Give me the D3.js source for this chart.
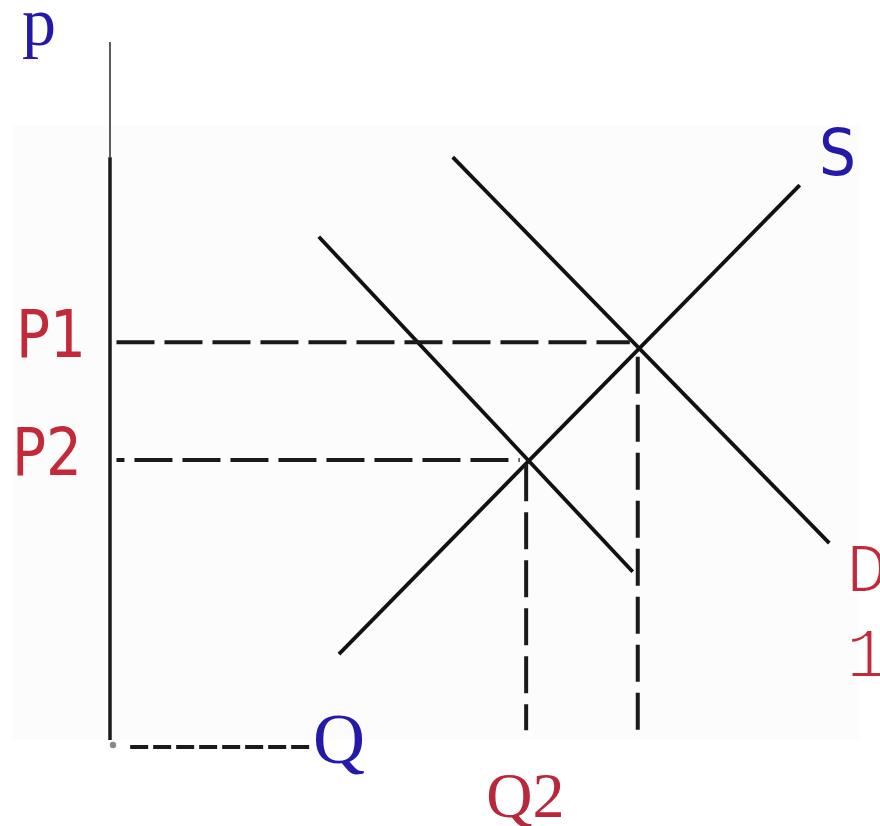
<!DOCTYPE html>
<html>
<head>
<meta charset="utf-8">
<script src="https://cdn.jsdelivr.net/npm/d3@7.9.0/dist/d3.min.js"></script>
<style>
  html, body { margin: 0; padding: 0; background: #fff; }
  svg { display: block; }
</style>
</head>
<body>
<svg id="chart" width="880" height="826"></svg>
<script>
// curves as [quantity, price] end points (0..100 units)
const supply = [[31.8, 12.3], [95.8, 79.5]];
const demand = [[47.6, 83.5], [99.9, 28.2]];
const demand1 = [[29.0, 72.1], [72.6, 24.1]];

// equilibrium levels
const priceLabels = ['P1', 'P2'];
const priceLevels = [57.0, 40.1];
const priceGuideEnd = [72.2, 56.9];
const quantityLevels = [73.3, 57.8];
const quantityGuideTop = [54.9, 39.5];
const guideBottom = 1.4;

const axisTop = 100;
const axisThickFrom = 83.5;
const qGuide = [2.8, 27.8];

const blue = '#2419a8';
const red = '#c22a3a';
const ink = '#1a1a1a';

const svg = d3.select('#chart');
const x = d3.scaleLinear().domain([0, 100]).range([110, 830]);
const y = d3.scaleLinear().domain([0, 100]).range([740, 42]);
const line = d3.line().x((d) => x(d[0])).y((d) => y(d[1]));

// faint panel behind the plot
svg.append('rect')
  .attr('x', 13).attr('y', 125)
  .attr('width', 847).attr('height', 615)
  .attr('fill', '#fcfcfc');

// price axis: thin tip, thick body
svg.append('path')
  .attr('d', line([[0, axisTop], [0, axisThickFrom]]))
  .attr('stroke', '#333').attr('stroke-width', 1.6).attr('fill', 'none');
svg.append('path')
  .attr('d', line([[0, axisThickFrom], [0, 0]]))
  .attr('stroke', ink).attr('stroke-width', 3.5).attr('fill', 'none');
svg.append('circle')
  .attr('cx', x(0) + 3).attr('cy', y(0) + 5).attr('r', 3.2)
  .attr('fill', '#888');

// quantity axis drawn as short dashes
svg.append('path')
  .attr('d', line(qGuide.map((q) => [q, -1.0])))
  .attr('stroke', ink).attr('stroke-width', 4)
  .attr('stroke-dasharray', '18 5').attr('fill', 'none');

// curves
[supply, demand, demand1].forEach((c) => {
  svg.append('path')
    .attr('d', line(c))
    .attr('stroke', '#111').attr('stroke-width', 3.8)
    .attr('fill', 'none');
});

// horizontal guides
priceLevels.forEach((p, i) => {
  svg.append('path')
    .attr('d', line([[0.9, p], [priceGuideEnd[i], p]]))
    .attr('stroke', ink).attr('stroke-width', 4)
    .attr('stroke-dasharray', '38 10')
    .attr('stroke-dashoffset', i === 0 ? 0 : 30)
    .attr('fill', 'none');
});

// vertical guides
quantityLevels.forEach((q, i) => {
  svg.append('path')
    .attr('d', line([[q, quantityGuideTop[i]], [q, guideBottom]]))
    .attr('stroke', ink).attr('stroke-width', 4)
    .attr('stroke-dasharray', '37 11')
    .attr('fill', 'none');
});

// labels
svg.append('text').text('p')
  .attr('x', 22).attr('y', 45)
  .attr('font-family', '"Liberation Serif", serif').attr('font-size', 68)
  .attr('fill', blue);

priceLabels.forEach((t, i) => {
  svg.append('text').text(t)
    .attr('x', i === 0 ? 16 : 12).attr('y', y(priceLevels[i]) + 15)
    .attr('font-family', '"DejaVu Sans", sans-serif').attr('font-size', 65)
    .attr('textLength', 70).attr('lengthAdjust', 'spacingAndGlyphs')
    .attr('fill', red);
});

svg.append('text').text('S')
  .attr('x', 819).attr('y', 175)
  .attr('font-family', '"DejaVu Sans", sans-serif').attr('font-size', 64)
  .attr('textLength', 37).attr('lengthAdjust', 'spacingAndGlyphs')
  .attr('fill', blue);

svg.append('text').text('Q')
  .attr('x', 313).attr('y', 763)
  .attr('font-family', '"Liberation Serif", serif').attr('font-size', 72)
  .attr('fill', blue);

svg.append('text').text('Q2')
  .attr('x', x(quantityLevels[1]) - 40).attr('y', 817)
  .attr('font-family', '"Liberation Serif", serif').attr('font-size', 64)
  .attr('fill', '#b8283a');

// thin typewriter-style D1, glyphs thinned with a white overstroke
['D', '1'].forEach((t, i) => {
  svg.append('text').text(t)
    .attr('x', 846).attr('y', 592 + i * 85)
    .attr('font-family', '"Liberation Mono", monospace').attr('font-size', 70)
    .attr('fill', red)
    .attr('stroke', '#fff').attr('stroke-width', 2.2)
    .attr('paint-order', 'fill');
});
</script>
</body>
</html>
